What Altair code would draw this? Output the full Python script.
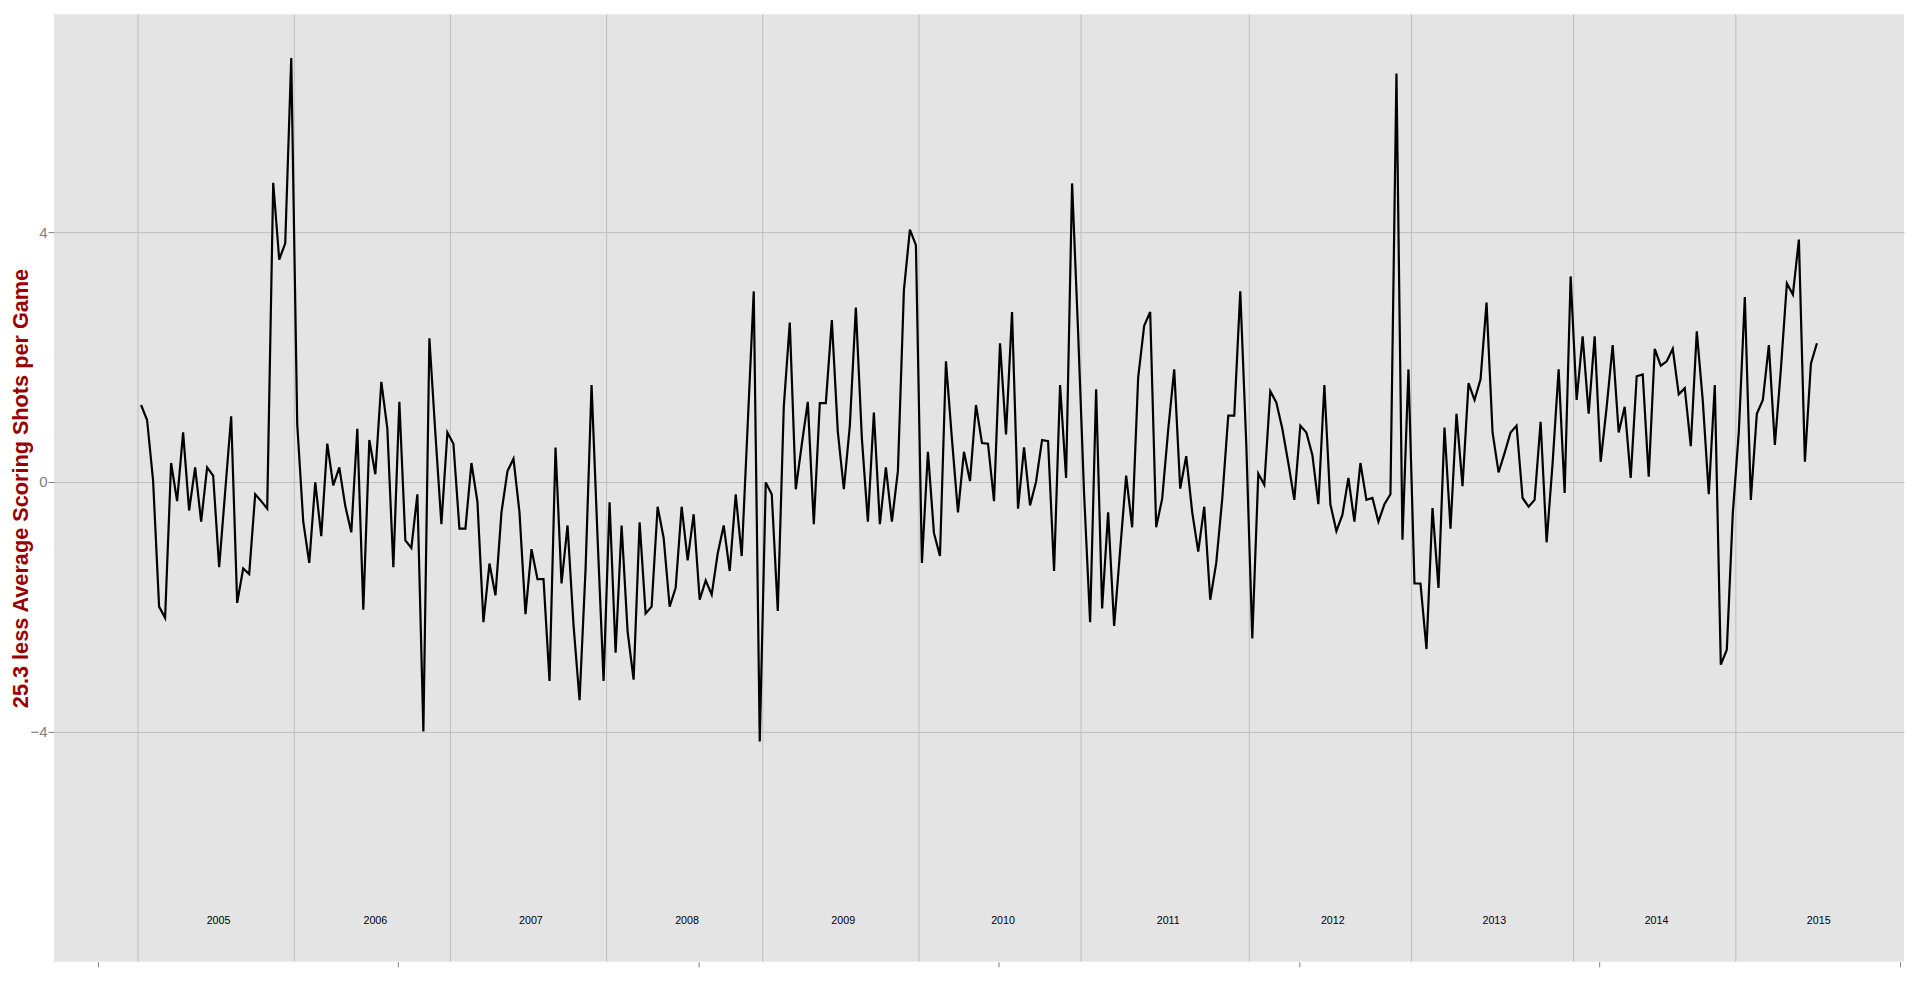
import altair as alt
import pandas as pd

# Seasons and per-season values (one value per round, in order)
years = [2005, 2006, 2007, 2008, 2009, 2010, 2011, 2012, 2013, 2014, 2015]

v2005 = [1.23, 0.99, 0.02, -2.00, -2.18, 0.30, -0.31, 0.79, -0.46, 0.23, -0.64, 0.23, 0.10,
         -1.37, -0.16, 1.05, -1.94, -1.39, -1.48, -0.20, -0.31, -0.43, 4.79, 3.56, 3.82, 6.79]
v2006 = [0.92, -0.64, -1.30, -0.01, -0.87, 0.61, -0.06, 0.23, -0.39, -0.81, 0.85, -2.05, 0.67,
         0.12, 1.60, 0.85, -1.37, 1.28, -0.94, -1.06, -0.20, -4.00, 2.30, 0.77, -0.68, 0.79]
v2007 = [0.61, -0.75, -0.75, 0.30, -0.32, -2.25, -1.31, -1.82, -0.49, 0.17, 0.37, -0.49, -2.12,
         -1.08, -1.56, -1.56, -3.19, 0.55, -1.63, -0.70, -2.30, -3.50, -1.40, 1.55, -0.90, -3.19]
v2008 = [-0.33, -2.74, -0.70, -2.40, -3.17, -0.65, -2.11, -2.00, -0.40, -0.90, -2.00, -1.70, -0.40,
         -1.26, -0.52, -1.89, -1.58, -1.81, -1.15, -0.70, -1.43, -0.20, -1.19, 0.93, 3.05, -4.16]
v2009 = [-0.01, -0.20, -2.07, 1.20, 2.55, -0.12, 0.60, 1.28, -0.68, 1.26, 1.26, 2.59, 0.80,
         -0.12, 0.90, 2.79, 0.70, -0.64, 1.11, -0.68, 0.23, -0.64, 0.17, 3.07, 4.04, 3.79]
v2010 = [-1.30, 0.48, -0.82, -1.19, 1.93, 0.68, -0.49, 0.48, 0.01, 1.23, 0.62, 0.61, -0.31,
         2.22, 0.76, 2.72, -0.43, 0.55, -0.38, 0.00, 0.67, 0.65, -1.43, 1.55, 0.06, 4.78, 2.40]
v2011 = [-0.20, -2.25, 1.48, -2.03, -0.49, -2.31, -1.10, 0.10, -0.73, 1.67, 2.50, 2.72, -0.73,
         -0.27, 0.83, 1.80, -0.11, 0.41, -0.49, -1.12, -0.40, -1.89, -1.30, -0.27, 1.06, 1.06,
         3.05, 0.60]
v2012 = [-2.51, 0.13, -0.05, 1.45, 1.27, 0.85, 0.30, -0.29, 0.90, 0.79, 0.43, -0.36, 1.55,
         -0.36, -0.79, -0.53, 0.06, -0.64, 0.30, -0.29, -0.26, -0.64, -0.36, -0.20, 6.54, -0.93,
         1.80]
v2013 = [-1.63, -1.63, -2.68, -0.42, -1.70, 0.87, -0.75, 1.09, -0.07, 1.58, 1.31, 1.64, 2.87,
         0.79, 0.15, 0.46, 0.79, 0.90, -0.26, -0.40, -0.29, 0.96, -0.97, 0.30, 1.80, -0.18, 3.29]
v2014 = [1.31, 2.33, 1.09, 2.33, 0.32, 1.20, 2.19, 0.79, 1.20, 0.06, 1.69, 1.72, 0.08,
         2.13, 1.86, 1.93, 2.13, 1.40, 1.50, 0.57, 2.41, 1.30, -0.20, 1.55, -2.93, -2.69, -0.50]
v2015 = [0.80, 2.96, -0.29, 1.09, 1.31, 2.19, 0.59, 1.80, 3.18, 3.00, 3.88, 0.32, 1.89, 2.22]

season_values = [v2005, v2006, v2007, v2008, v2009, v2010, v2011, v2012, v2013, v2014, v2015]

# Year label positions (round index) and label height
label_x = [12.9, 39.0, 64.9, 90.9, 116.9, 143.5, 171.0, 198.4, 225.3, 252.3, 279.3]
label_y = -7.0

# Axis tick positions
x_ticks = [-7.2, 42.8, 92.8, 142.8, 192.8, 242.8, 292.8]
y_ticks = [-4, 0, 4]

rows = []
starts = []
idx = 0
for yr, vals in zip(years, season_values):
    starts.append(idx)
    for v in vals:
        rows.append({"game": idx, "value": v, "season": yr})
        idx += 1
line_df = pd.DataFrame(rows)
vline_df = pd.DataFrame({"x": [s - 0.5 for s in starts]})
label_df = pd.DataFrame({"x": label_x, "y": [label_y] * len(years),
                         "year": [str(y) for y in years]})

xs = alt.Scale(domain=[-14.5, 293.5], nice=False, zero=False)
ys = alt.Scale(domain=[-7.69, 7.49], nice=False, zero=False)

x_axis = alt.Axis(values=x_ticks, labels=False, grid=False, domain=False, ticks=True,
                  tickColor="#7F7F7F", tickSize=5, tickWidth=1, title=None)
y_axis = alt.Axis(values=y_ticks, grid=True, gridColor="#BEBEBE", gridWidth=1, domain=False,
                  ticks=True, tickColor="#7F7F7F", tickSize=6, tickWidth=1,
                  labelColor="#7F7F7F", labelFontSize=15, labelFont="Liberation Sans",
                  labelPadding=1,
                  title="25.3 less Average Scoring Shots per Game",
                  titleColor="#990000", titleFont="Liberation Sans", titleFontSize=21.7,
                  titleFontWeight="bold", titleX=-26.5, titleY=474, titleAngle=270,
                  titleAlign="center", titleBaseline="alphabetic")

vlines = alt.Chart(vline_df).mark_rule(color="#BEBEBE", strokeWidth=1).encode(
    x=alt.X("x:Q", scale=xs, axis=x_axis)
)

line = alt.Chart(line_df).mark_line(color="black", strokeWidth=2.2).encode(
    x=alt.X("game:Q", scale=xs, axis=x_axis),
    y=alt.Y("value:Q", scale=ys, axis=y_axis),
    order="game:Q",
)

labels = alt.Chart(label_df).mark_text(
    font="Liberation Sans Narrow, Liberation Sans", fontSize=10.7, color="black", dy=2
).encode(
    x=alt.X("x:Q", scale=xs, axis=x_axis),
    y=alt.Y("y:Q", scale=ys, axis=y_axis),
    text="year:N",
)

chart = alt.layer(vlines, line, labels).properties(
    width=1851,
    height=948,
    autosize=alt.AutoSizeParams(type="none"),
    padding={"left": 46, "top": 6, "right": 8, "bottom": 30},
    background="white",
).configure_view(fill="#E4E4E4", stroke=None)

chart.save("out.html", embed_options={"renderer": "svg", "actions": False})
